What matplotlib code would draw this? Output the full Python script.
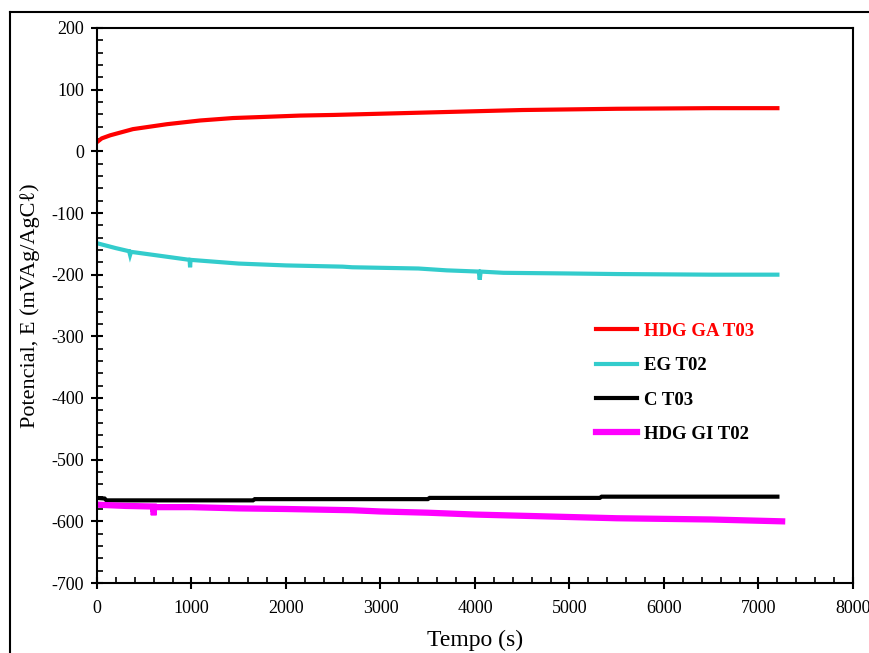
""" Open circuit potential vs time for the coated steel samples.

"""
#####################################################
# IMPORTS
#####################################################
import matplotlib.pyplot as plt
from matplotlib.lines import Line2D
from matplotlib.ticker import MultipleLocator

#####################################################
# DATA
#####################################################

t_ga = [0, 50, 140, 380, 740, 1090, 1440, 1800, 2150, 2500, 3000, 3500,
        4000, 4500, 5000, 5500, 6000, 6500, 7200]
e_ga = [15, 21, 26, 36, 44, 50, 54, 56, 58, 59, 61, 63,
        65, 67, 68, 69, 69.5, 70, 70]

t_eg = [0, 200, 340, 350, 360, 600, 980, 985, 990, 1500, 2000, 2600, 2700,
        3400, 3700, 4040, 4050, 4060, 4300, 4950, 5500, 6500, 7200]
e_eg = [-149, -157, -162, -168, -163, -168, -176, -188, -176, -182, -185,
        -187, -188, -190, -193, -195, -208, -195, -197, -198, -199, -200, -200]

t_c = [0, 80, 100, 1650, 1670, 3500, 3520, 5320, 5340, 7200]
e_c = [-562, -563, -566, -566, -564, -564, -562, -562, -560, -560]

t_gi = [0, 300, 600, 600, 570, 630, 600, 600, 1000, 1500, 2000, 2700, 3000,
        3500, 4000, 4500, 5000, 5500, 6000, 6500, 7000, 7250]
e_gi = [-573, -575, -576, -585, -585, -585, -585, -577, -577, -579, -580,
        -582, -584, -586, -589, -591, -593, -595, -596, -597, -599, -600]

labels = ["HDG GA T03", "EG T02", "C T03", "HDG GI T02"]

#####################################################
# PARAMETERS
#####################################################

colors = ["#ff0000", "#33cccc", "#000000", "#ff00ff"]
widths = [3, 3, 3, 4.5]
serif = ["Liberation Serif", "DejaVu Serif"]

plt.rcParams["font.family"] = serif
plt.rcParams["axes.unicode_minus"] = False

#####################################################
# PLOT
#####################################################

fig = plt.figure(figsize=(8.7, 6.53), dpi=100)
ax = fig.add_axes([97 / 870, 1 - 583 / 653, 756 / 870, 555 / 653])

series = [(t_ga, e_ga), (t_eg, e_eg), (t_c, e_c), (t_gi, e_gi)]
for (x, y), c, lw, lab in zip(series, colors, widths, labels):
    ax.plot(x, y, color=c, lw=lw, label=lab, solid_joinstyle="miter")

ax.set_xlim(0, 8000)
ax.set_ylim(-700, 200)
ax.xaxis.set_major_locator(MultipleLocator(1000))
ax.xaxis.set_minor_locator(MultipleLocator(200))
ax.yaxis.set_major_locator(MultipleLocator(100))
ax.yaxis.set_minor_locator(MultipleLocator(20))
ax.tick_params(which="major", direction="inout", length=9, width=1.5,
               labelsize=13, pad=5)
ax.tick_params(axis="x", which="major", pad=8)
ax.tick_params(which="minor", direction="in", length=4, width=1.2)
for s in ax.spines.values():
    s.set_linewidth(1.5)

ax.set_xlabel("Tempo (s)", fontsize=17, labelpad=9)
ax.set_ylabel("Potencial, E (mVAg/AgCℓ)", fontsize=16, labelpad=8)

leg = ax.legend(loc="upper left", bbox_to_anchor=(0.66, 0.469), frameon=False,
                borderpad=0, borderaxespad=0, handlelength=2.2,
                handletextpad=0.35, labelspacing=0.92,
                prop={"family": serif, "weight": "bold", "size": 13.5})
for txt, c in zip(leg.get_texts(), ["#ff0000", "k", "k", "k"]):
    txt.set_color(c)

# outer frame of the original figure
fig.add_artist(Line2D([10 / 870, 1], [1 - 12 / 653] * 2, color="k", lw=1.5))
fig.add_artist(Line2D([10 / 870] * 2, [0, 1 - 12 / 653], color="k", lw=1.5))

fig.savefig("out.png", dpi=100)
plt.close()
